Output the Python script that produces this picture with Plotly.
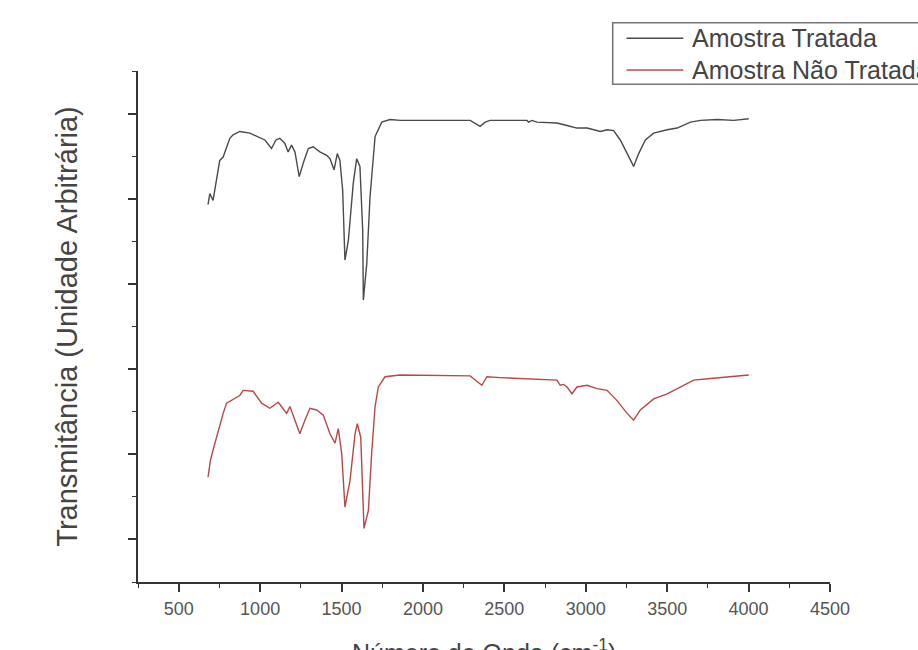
import plotly.graph_objects as go

# Wavenumber (cm^-1) and arbitrary transmittance
wn_tratada = [680, 691, 711, 752, 773, 794, 814, 834, 875, 937, 978, 1029, 1070, 1097, 1121,
              1152, 1172, 1193, 1214, 1240, 1265, 1296, 1326, 1367, 1409, 1429, 1454, 1474,
              1490, 1507, 1521, 1542, 1572, 1593, 1613, 1630, 1634, 1655, 1675, 1692, 1706,
              1747, 1798, 1861, 2290, 2351, 2382, 2413, 2639, 2649, 2670, 2700, 2823, 2885,
              2946, 3008, 3090, 3131, 3171, 3212, 3254, 3294, 3325, 3366, 3417, 3500, 3561,
              3643, 3704, 3807, 3909, 4001]
t_tratada = [3.93, 4.06, 3.98, 4.45, 4.49, 4.61, 4.71, 4.75, 4.79, 4.77, 4.73, 4.69, 4.59, 4.69,
             4.71, 4.65, 4.55, 4.63, 4.55, 4.26, 4.42, 4.59, 4.61, 4.55, 4.51, 4.47, 4.34, 4.53,
             4.45, 4.10, 3.28, 3.51, 4.18, 4.47, 4.38, 3.63, 2.81, 3.24, 4.02, 4.42, 4.73,
             4.90, 4.93, 4.92, 4.92, 4.85, 4.90, 4.92, 4.92, 4.90, 4.92, 4.90, 4.89, 4.86,
             4.83, 4.83, 4.79, 4.81, 4.80, 4.69, 4.53, 4.38, 4.53, 4.69, 4.77, 4.81, 4.83,
             4.90, 4.92, 4.93, 4.92, 4.94]

wn_nao_tratada = [680, 687, 695, 711, 732, 752, 773, 794, 824, 855, 875, 896, 957, 1009, 1060,
                  1111, 1142, 1163, 1183, 1214, 1244, 1275, 1306, 1347, 1388, 1429, 1460, 1480,
                  1501, 1521, 1552, 1583, 1597, 1618, 1634, 1638, 1665, 1685, 1706, 1726, 1767,
                  1839, 1859, 2290, 2362, 2393, 2474, 2823, 2843, 2864, 2885, 2915, 2946, 3008,
                  3069, 3131, 3192, 3254, 3294, 3335, 3417, 3500, 3581, 3663, 3766, 3869, 4001]
t_nao_tratada = [0.73, 0.85, 0.93, 1.05, 1.20, 1.34, 1.48, 1.60, 1.63, 1.67, 1.69, 1.75, 1.74,
                 1.60, 1.54, 1.61, 1.54, 1.48, 1.56, 1.40, 1.24, 1.40, 1.54, 1.52, 1.46, 1.24,
                 1.13, 1.30, 1.01, 0.38, 0.69, 1.24, 1.36, 1.20, 0.42, 0.13, 0.34, 1.01, 1.56,
                 1.79, 1.91, 1.93, 1.93, 1.92, 1.81, 1.91, 1.90, 1.87, 1.81, 1.82, 1.79, 1.71,
                 1.79, 1.81, 1.77, 1.75, 1.63, 1.48, 1.40, 1.52, 1.65, 1.71, 1.79, 1.87, 1.89,
                 1.91, 1.93]

series_names = ["Amostra Tratada", "Amostra Não Tratada"]
series_colors = ["#4a4a4a", "#b84848"]
x_tick_values = [500, 1000, 1500, 2000, 2500, 3000, 3500, 4000, 4500]
x_tick_labels = ["500", "1000", "1500", "2000", "2500", "3000", "3500", "4000", "4500"]
x_title = "Número de Onda (cm<sup>-1</sup>)"
y_title = "Transmitância (Unidade Arbitrária)"

FONT = "Liberation Sans, Arial, sans-serif"

fig = go.Figure()
fig.add_trace(go.Scatter(x=wn_tratada, y=t_tratada, mode="lines", name=series_names[0],
                         line=dict(color=series_colors[0], width=1.4)))
fig.add_trace(go.Scatter(x=wn_nao_tratada, y=t_nao_tratada, mode="lines", name=series_names[1],
                         line=dict(color=series_colors[1], width=1.4)))

axis_color = "#333333"
fig.update_layout(
    width=918, height=650,
    margin=dict(l=138, r=88, t=71, b=68),
    paper_bgcolor="white", plot_bgcolor="white",
    showlegend=False,
    font=dict(family=FONT, color="#444444"),
    xaxis=dict(
        range=[250, 4500], showgrid=False, zeroline=False,
        showline=True, linecolor=axis_color, linewidth=1.8,
        tickmode="array", tickvals=x_tick_values, ticktext=x_tick_labels,
        ticks="outside", ticklen=8, tickwidth=1.6, tickcolor=axis_color,
        tickfont=dict(size=18, color="#555555", family=FONT),
        ticklabelstandoff=1,
        minor=dict(dtick=250, tick0=0, ticks="outside", ticklen=4, tickwidth=1.4,
                   tickcolor=axis_color),
        automargin=False,
    ),
    yaxis=dict(
        range=[-0.5, 5.5], showgrid=False, zeroline=False,
        showline=True, linecolor=axis_color, linewidth=1.8,
        tickmode="linear", tick0=0, dtick=1, showticklabels=False,
        ticks="outside", ticklen=8, tickwidth=1.6, tickcolor=axis_color,
        minor=dict(dtick=0.5, tick0=0, ticks="outside", ticklen=4, tickwidth=1.4,
                   tickcolor=axis_color),
        title=dict(text=y_title, standoff=42,
                   font=dict(size=29, color="#444444", family=FONT)),
        automargin=False,
    ),
)

# X-axis title, placed low so it is partly cut by the bottom edge as in the reference
fig.add_annotation(xref="paper", yref="paper", x=0.5, y=-0.099, text=x_title, showarrow=False,
                   xanchor="center", yanchor="top",
                   font=dict(size=25, color="#444444", family=FONT))

# Legend box drawn in paper coordinates (partially cut by the right edge, as in the reference)
fig.add_shape(type="rect", xref="paper", yref="paper", x0=0.686, x1=1.20, y0=0.974, y1=1.0945,
              line=dict(color="#777777", width=1.6), fillcolor="white")
legend_y = [1.064, 1.002]
for name, color, ly in zip(series_names, series_colors, legend_y):
    fig.add_shape(type="line", xref="paper", yref="paper", x0=0.706, x1=0.788, y0=ly, y1=ly,
                  line=dict(color=color, width=1.4))
    fig.add_annotation(xref="paper", yref="paper", x=0.797, y=ly, text=name, showarrow=False,
                       xanchor="left", yanchor="middle",
                       font=dict(size=25, color="#444444", family=FONT))

fig.write_html("out.html")
